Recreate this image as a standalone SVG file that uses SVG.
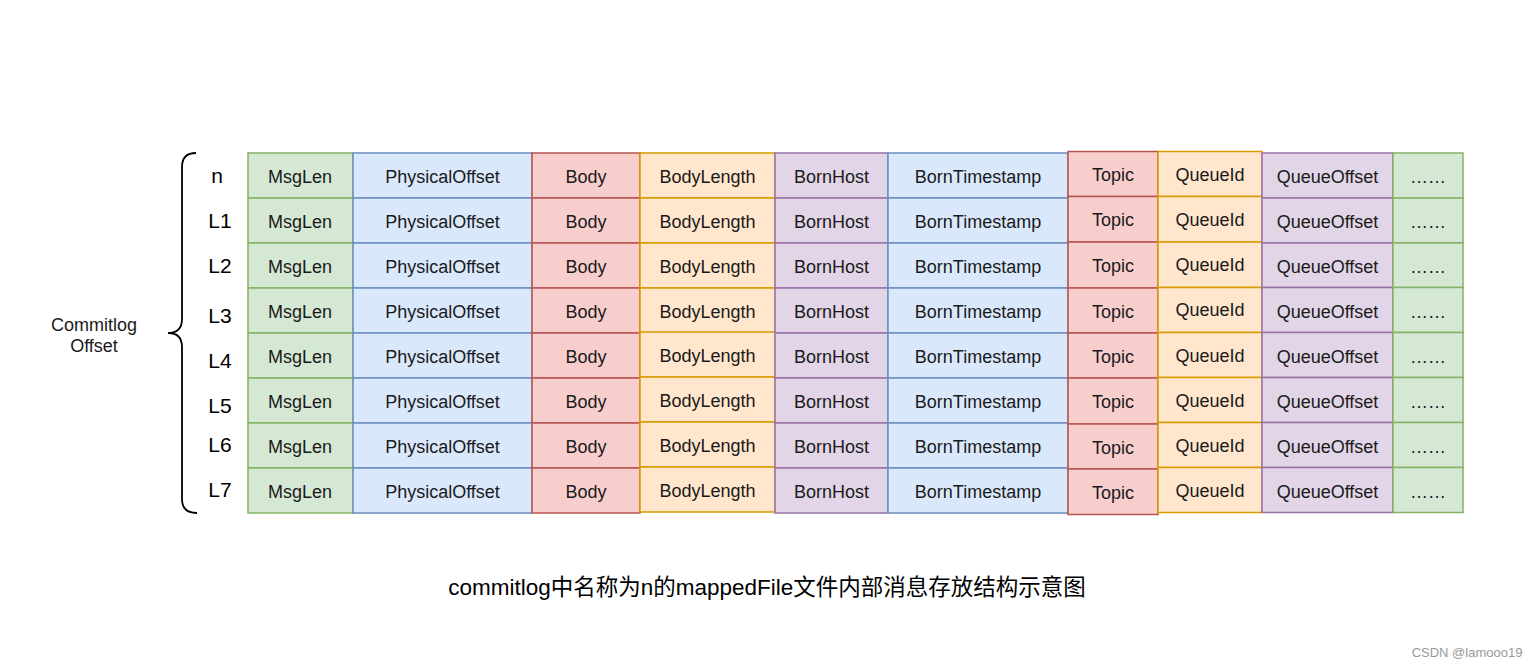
<svg xmlns="http://www.w3.org/2000/svg" width="1538" height="667" viewBox="0 0 1538 667">
<style>
rect{stroke-width:1.5}
.g{fill:#d5e8d4;stroke:#82b366}
.b{fill:#dae8fc;stroke:#6c8ebf}
.r{fill:#f8cecc;stroke:#b85450}
.o{fill:#ffe6cc;stroke:#d79b00}
.p{fill:#e1d5e7;stroke:#9673a6}
text{font-family:"Liberation Sans",Arial,sans-serif;fill:#1a1a1a;text-anchor:middle}
.c{font-size:18px}
.lb{font-size:21px;fill:#000}
.cap{font-family:"Liberation Sans","Noto Sans CJK SC",sans-serif;font-size:22.5px;fill:#000}
.wm{font-size:13px;fill:#999}
</style>
<rect x="0" y="0" width="1538" height="667" fill="#fff" style="stroke:none"/>
<g id="connectors">
<path d="M196,153 Q182,153 182,167 L182,319 Q182,333 168,333 Q182,333 182,347 L182,499 Q182,513 197,513" fill="none" stroke="#000" stroke-width="1.8"/>
</g>
<g id="label-commitlog"><text class="c" x="94" y="331">Commitlog</text><text class="c" x="94" y="352">Offset</text></g>
<g id="row-labels">
<text class="lb" x="217" y="183">n</text>
<text class="lb" x="220" y="228">L1</text>
<text class="lb" x="220" y="273">L2</text>
<text class="lb" x="220" y="323">L3</text>
<text class="lb" x="220" y="368">L4</text>
<text class="lb" x="220" y="413">L5</text>
<text class="lb" x="220" y="452">L6</text>
<text class="lb" x="220" y="497">L7</text>
</g>
<g id="col-msglen">
<g id="msglen-0"><rect class="g" x="248" y="153" width="105" height="45"/><text class="c" x="300" y="183">MsgLen</text></g>
<g id="msglen-1"><rect class="g" x="248" y="198" width="105" height="45"/><text class="c" x="300" y="228">MsgLen</text></g>
<g id="msglen-2"><rect class="g" x="248" y="243" width="105" height="45"/><text class="c" x="300" y="273">MsgLen</text></g>
<g id="msglen-3"><rect class="g" x="248" y="288" width="105" height="45"/><text class="c" x="300" y="318">MsgLen</text></g>
<g id="msglen-4"><rect class="g" x="248" y="333" width="105" height="45"/><text class="c" x="300" y="363">MsgLen</text></g>
<g id="msglen-5"><rect class="g" x="248" y="378" width="105" height="45"/><text class="c" x="300" y="408">MsgLen</text></g>
<g id="msglen-6"><rect class="g" x="248" y="423" width="105" height="45"/><text class="c" x="300" y="453">MsgLen</text></g>
<g id="msglen-7"><rect class="g" x="248" y="468" width="105" height="45"/><text class="c" x="300" y="498">MsgLen</text></g>
</g>
<g id="col-physicaloffset">
<g id="phys-0"><rect class="b" x="353" y="153" width="179" height="45"/><text class="c" x="442.5" y="183">PhysicalOffset</text></g>
<g id="phys-1"><rect class="b" x="353" y="198" width="179" height="45"/><text class="c" x="442.5" y="228">PhysicalOffset</text></g>
<g id="phys-2"><rect class="b" x="353" y="243" width="179" height="45"/><text class="c" x="442.5" y="273">PhysicalOffset</text></g>
<g id="phys-3"><rect class="b" x="353" y="288" width="179" height="45"/><text class="c" x="442.5" y="318">PhysicalOffset</text></g>
<g id="phys-4"><rect class="b" x="353" y="333" width="179" height="45"/><text class="c" x="442.5" y="363">PhysicalOffset</text></g>
<g id="phys-5"><rect class="b" x="353" y="378" width="179" height="45"/><text class="c" x="442.5" y="408">PhysicalOffset</text></g>
<g id="phys-6"><rect class="b" x="353" y="423" width="179" height="45"/><text class="c" x="442.5" y="453">PhysicalOffset</text></g>
<g id="phys-7"><rect class="b" x="353" y="468" width="179" height="45"/><text class="c" x="442.5" y="498">PhysicalOffset</text></g>
</g>
<g id="col-body">
<g id="body-0"><rect class="r" x="532" y="153" width="108" height="45"/><text class="c" x="586" y="183">Body</text></g>
<g id="body-1"><rect class="r" x="532" y="198" width="108" height="45"/><text class="c" x="586" y="228">Body</text></g>
<g id="body-2"><rect class="r" x="532" y="243" width="108" height="45"/><text class="c" x="586" y="273">Body</text></g>
<g id="body-3"><rect class="r" x="532" y="288" width="108" height="45"/><text class="c" x="586" y="318">Body</text></g>
<g id="body-4"><rect class="r" x="532" y="333" width="108" height="45"/><text class="c" x="586" y="363">Body</text></g>
<g id="body-5"><rect class="r" x="532" y="378" width="108" height="45"/><text class="c" x="586" y="408">Body</text></g>
<g id="body-6"><rect class="r" x="532" y="423" width="108" height="45"/><text class="c" x="586" y="453">Body</text></g>
<g id="body-7"><rect class="r" x="532" y="468" width="108" height="45"/><text class="c" x="586" y="498">Body</text></g>
</g>
<g id="col-bodylength">
<g id="bodylen-0"><rect class="o" x="640" y="153" width="135" height="45"/><text class="c" x="707.5" y="183">BodyLength</text></g>
<g id="bodylen-1"><rect class="o" x="640" y="198" width="135" height="45"/><text class="c" x="707.5" y="228">BodyLength</text></g>
<g id="bodylen-2"><rect class="o" x="640" y="243" width="135" height="45"/><text class="c" x="707.5" y="273">BodyLength</text></g>
<g id="bodylen-3"><rect class="o" x="640" y="288" width="135" height="45"/><text class="c" x="707.5" y="318">BodyLength</text></g>
<g id="bodylen-4"><rect class="o" x="640" y="332" width="135" height="45"/><text class="c" x="707.5" y="362">BodyLength</text></g>
<g id="bodylen-5"><rect class="o" x="640" y="377" width="135" height="45"/><text class="c" x="707.5" y="407">BodyLength</text></g>
<g id="bodylen-6"><rect class="o" x="640" y="422" width="135" height="45"/><text class="c" x="707.5" y="452">BodyLength</text></g>
<g id="bodylen-7"><rect class="o" x="640" y="467" width="135" height="45"/><text class="c" x="707.5" y="497">BodyLength</text></g>
</g>
<g id="col-bornhost">
<g id="bornhost-0"><rect class="p" x="775" y="153" width="113" height="45"/><text class="c" x="831.5" y="183">BornHost</text></g>
<g id="bornhost-1"><rect class="p" x="775" y="198" width="113" height="45"/><text class="c" x="831.5" y="228">BornHost</text></g>
<g id="bornhost-2"><rect class="p" x="775" y="243" width="113" height="45"/><text class="c" x="831.5" y="273">BornHost</text></g>
<g id="bornhost-3"><rect class="p" x="775" y="288" width="113" height="45"/><text class="c" x="831.5" y="318">BornHost</text></g>
<g id="bornhost-4"><rect class="p" x="775" y="333" width="113" height="45"/><text class="c" x="831.5" y="363">BornHost</text></g>
<g id="bornhost-5"><rect class="p" x="775" y="378" width="113" height="45"/><text class="c" x="831.5" y="408">BornHost</text></g>
<g id="bornhost-6"><rect class="p" x="775" y="423" width="113" height="45"/><text class="c" x="831.5" y="453">BornHost</text></g>
<g id="bornhost-7"><rect class="p" x="775" y="468" width="113" height="45"/><text class="c" x="831.5" y="498">BornHost</text></g>
</g>
<g id="col-borntimestamp">
<g id="borntime-0"><rect class="b" x="888" y="153" width="180" height="45"/><text class="c" x="978" y="183">BornTimestamp</text></g>
<g id="borntime-1"><rect class="b" x="888" y="198" width="180" height="45"/><text class="c" x="978" y="228">BornTimestamp</text></g>
<g id="borntime-2"><rect class="b" x="888" y="243" width="180" height="45"/><text class="c" x="978" y="273">BornTimestamp</text></g>
<g id="borntime-3"><rect class="b" x="888" y="288" width="180" height="45"/><text class="c" x="978" y="318">BornTimestamp</text></g>
<g id="borntime-4"><rect class="b" x="888" y="333" width="180" height="45"/><text class="c" x="978" y="363">BornTimestamp</text></g>
<g id="borntime-5"><rect class="b" x="888" y="378" width="180" height="45"/><text class="c" x="978" y="408">BornTimestamp</text></g>
<g id="borntime-6"><rect class="b" x="888" y="423" width="180" height="45"/><text class="c" x="978" y="453">BornTimestamp</text></g>
<g id="borntime-7"><rect class="b" x="888" y="468" width="180" height="45"/><text class="c" x="978" y="498">BornTimestamp</text></g>
</g>
<g id="col-topic">
<g id="topic-0"><rect class="r" x="1068" y="151.5" width="90" height="45"/><text class="c" x="1113" y="181">Topic</text></g>
<g id="topic-1"><rect class="r" x="1068" y="196.5" width="90" height="45.5"/><text class="c" x="1113" y="226">Topic</text></g>
<g id="topic-2"><rect class="r" x="1068" y="242" width="90" height="46"/><text class="c" x="1113" y="272">Topic</text></g>
<g id="topic-3"><rect class="r" x="1068" y="288" width="90" height="45"/><text class="c" x="1113" y="318">Topic</text></g>
<g id="topic-4"><rect class="r" x="1068" y="333" width="90" height="45"/><text class="c" x="1113" y="363">Topic</text></g>
<g id="topic-5"><rect class="r" x="1068" y="378" width="90" height="46"/><text class="c" x="1113" y="408">Topic</text></g>
<g id="topic-6"><rect class="r" x="1068" y="424" width="90" height="45"/><text class="c" x="1113" y="454">Topic</text></g>
<g id="topic-7"><rect class="r" x="1068" y="469" width="90" height="45.5"/><text class="c" x="1113" y="499">Topic</text></g>
</g>
<g id="col-queueid">
<g id="queueid-0"><rect class="o" x="1158" y="151.5" width="104" height="45"/><text class="c" x="1210" y="181">QueueId</text></g>
<g id="queueid-1"><rect class="o" x="1158" y="196.5" width="104" height="45.5"/><text class="c" x="1210" y="226">QueueId</text></g>
<g id="queueid-2"><rect class="o" x="1158" y="242" width="104" height="45.5"/><text class="c" x="1210" y="271">QueueId</text></g>
<g id="queueid-3"><rect class="o" x="1158" y="287.5" width="104" height="45"/><text class="c" x="1210" y="316">QueueId</text></g>
<g id="queueid-4"><rect class="o" x="1158" y="332.5" width="104" height="45"/><text class="c" x="1210" y="362">QueueId</text></g>
<g id="queueid-5"><rect class="o" x="1158" y="377.5" width="104" height="45"/><text class="c" x="1210" y="407">QueueId</text></g>
<g id="queueid-6"><rect class="o" x="1158" y="422.5" width="104" height="45"/><text class="c" x="1210" y="452">QueueId</text></g>
<g id="queueid-7"><rect class="o" x="1158" y="467.5" width="104" height="45"/><text class="c" x="1210" y="497">QueueId</text></g>
</g>
<g id="col-queueoffset">
<g id="queueoff-0"><rect class="p" x="1262" y="153" width="131" height="45"/><text class="c" x="1327.5" y="183">QueueOffset</text></g>
<g id="queueoff-1"><rect class="p" x="1262" y="198" width="131" height="45"/><text class="c" x="1327.5" y="228">QueueOffset</text></g>
<g id="queueoff-2"><rect class="p" x="1262" y="243" width="131" height="44.5"/><text class="c" x="1327.5" y="273">QueueOffset</text></g>
<g id="queueoff-3"><rect class="p" x="1262" y="287.5" width="131" height="45"/><text class="c" x="1327.5" y="318">QueueOffset</text></g>
<g id="queueoff-4"><rect class="p" x="1262" y="332.5" width="131" height="45"/><text class="c" x="1327.5" y="363">QueueOffset</text></g>
<g id="queueoff-5"><rect class="p" x="1262" y="377.5" width="131" height="45"/><text class="c" x="1327.5" y="408">QueueOffset</text></g>
<g id="queueoff-6"><rect class="p" x="1262" y="422.5" width="131" height="45"/><text class="c" x="1327.5" y="453">QueueOffset</text></g>
<g id="queueoff-7"><rect class="p" x="1262" y="467.5" width="131" height="45"/><text class="c" x="1327.5" y="498">QueueOffset</text></g>
</g>
<g id="col-more">
<g id="more-0"><rect class="g" x="1393" y="153" width="70" height="45"/><text class="c" x="1428" y="183">……</text></g>
<g id="more-1"><rect class="g" x="1393" y="198" width="70" height="45"/><text class="c" x="1428" y="228">……</text></g>
<g id="more-2"><rect class="g" x="1393" y="243" width="70" height="44.5"/><text class="c" x="1428" y="273">……</text></g>
<g id="more-3"><rect class="g" x="1393" y="287.5" width="70" height="45"/><text class="c" x="1428" y="318">……</text></g>
<g id="more-4"><rect class="g" x="1393" y="332.5" width="70" height="45"/><text class="c" x="1428" y="363">……</text></g>
<g id="more-5"><rect class="g" x="1393" y="377.5" width="70" height="45"/><text class="c" x="1428" y="408">……</text></g>
<g id="more-6"><rect class="g" x="1393" y="422.5" width="70" height="45"/><text class="c" x="1428" y="453">……</text></g>
<g id="more-7"><rect class="g" x="1393" y="467.5" width="70" height="45"/><text class="c" x="1428" y="498">……</text></g>
</g>
<g id="caption"><text class="cap" x="767" y="595">commitlog中名称为n的mappedFile文件内部消息存放结构示意图</text></g>
<g id="watermark"><text class="wm" x="1467" y="657">CSDN @lamooo19</text></g>
</svg>
